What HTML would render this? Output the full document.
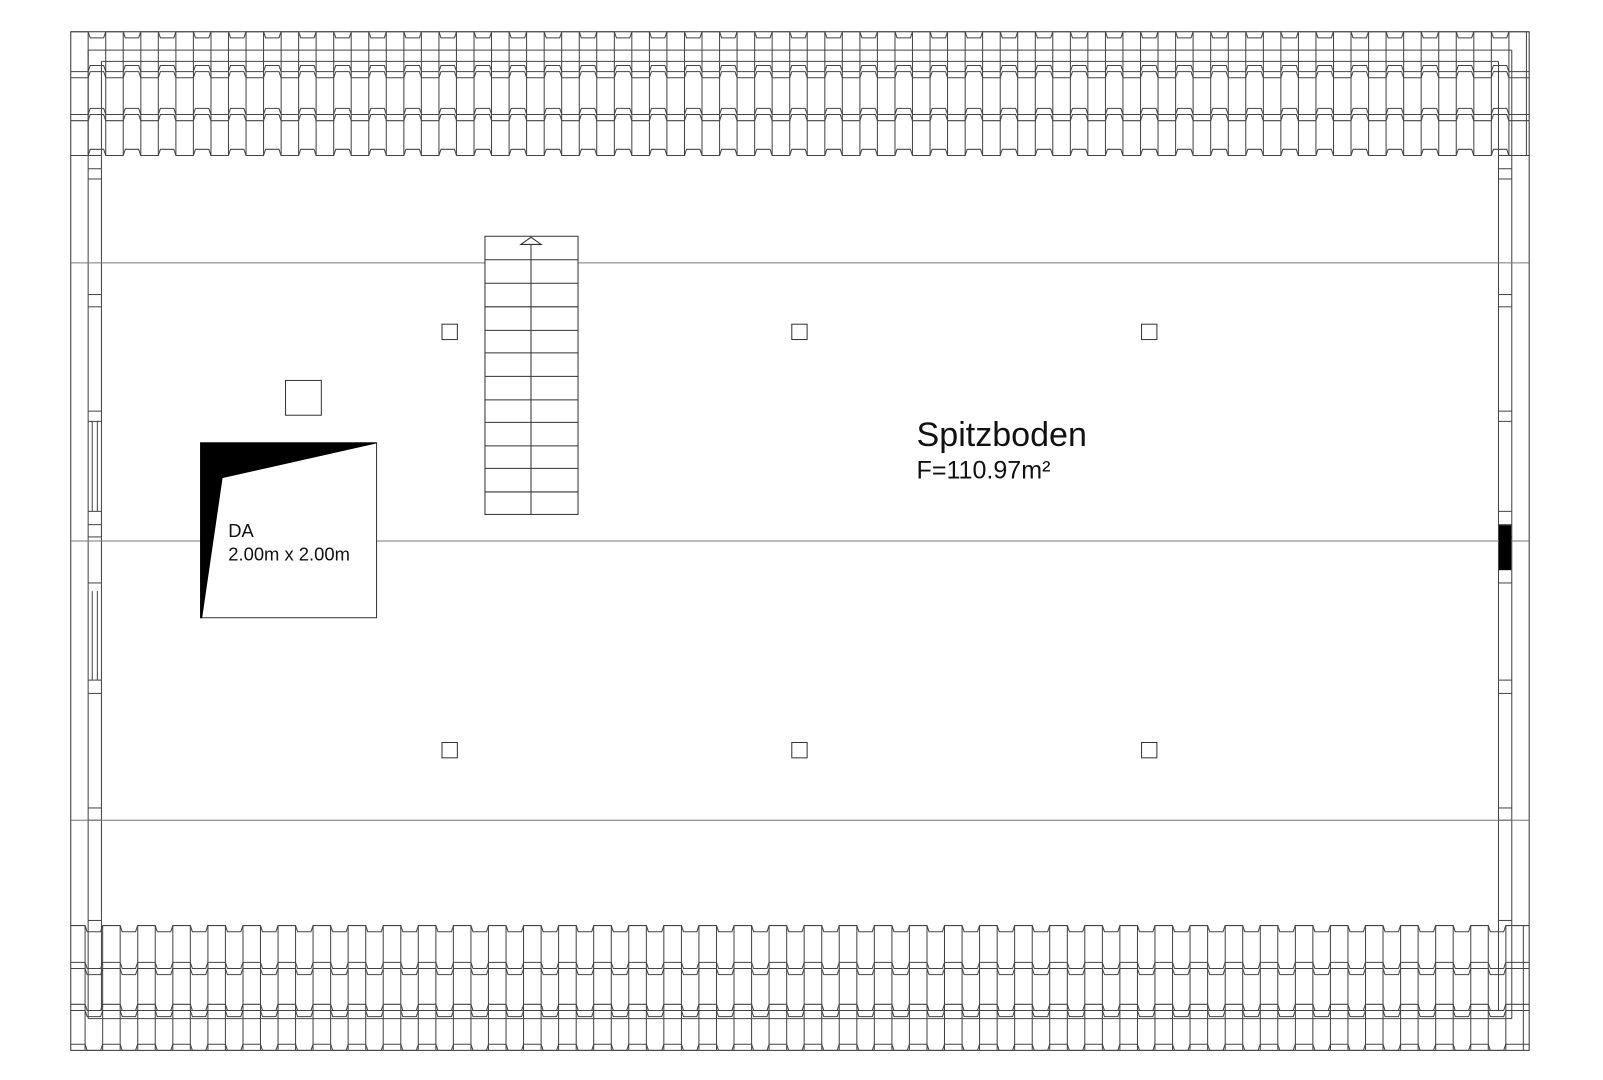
<!DOCTYPE html>
<html><head><meta charset="utf-8"><style>
html,body{margin:0;padding:0;background:#fff;width:1603px;height:1080px;overflow:hidden}
svg{display:block}
text{font-family:"Liberation Sans",sans-serif;fill:#111}
</style></head><body>
<svg id="s" width="1603" height="1080" viewBox="0 0 1567 1056" xmlns="http://www.w3.org/2000/svg">
<g id="g" fill="none" stroke="#444" stroke-width="1"></g>
<g fill="none" stroke="#333" stroke-width="1">
<line x1="69" y1="257" x2="1495" y2="257" stroke="#777"/>
<line x1="69" y1="529" x2="1495" y2="529" stroke="#777"/>
<line x1="69" y1="802" x2="1495" y2="802" stroke="#777"/>
<rect x="474" y="231" width="91" height="272" fill="#fff"/>
<line x1="474" y1="254" x2="565" y2="254"/><line x1="474" y1="277" x2="565" y2="277"/>
<line x1="474" y1="300" x2="565" y2="300"/><line x1="474" y1="323" x2="565" y2="323"/>
<line x1="474" y1="345" x2="565" y2="345"/><line x1="474" y1="368" x2="565" y2="368"/>
<line x1="474" y1="391" x2="565" y2="391"/><line x1="474" y1="413" x2="565" y2="413"/>
<line x1="474" y1="436" x2="565" y2="436"/><line x1="474" y1="458" x2="565" y2="458"/>
<line x1="474" y1="481" x2="565" y2="481"/>
<line x1="519" y1="236" x2="519" y2="503"/>
<path d="M509 239 L519 232 L529 239 Z" fill="#fff"/>
<rect x="279" y="372" width="35" height="34"/>
<rect x="432" y="317" width="15" height="15"/><rect x="774" y="317" width="15" height="15"/><rect x="1116" y="317" width="15" height="15"/>
<rect x="432" y="726" width="15" height="15"/><rect x="774" y="726" width="15" height="15"/><rect x="1116" y="726" width="15" height="15"/>
<rect x="196" y="433" width="172" height="171" fill="#fff"/>
<path d="M196 433 L368 433 L217 467 L197 604 L196 604 Z" fill="#000" stroke="#000"/>
<rect x="1466" y="514" width="11" height="43" fill="#000" stroke="#000"/>
</g>
<g font-size="18"><text x="223" y="525">DA</text><text x="223" y="548">2.00m x 2.00m</text></g>
<text x="896" y="436" font-size="33.3">Spitzboden</text>
<text x="896" y="468" font-size="24.5">F=110.97m²</text>
</svg>
<script>
(function(){
var g=document.getElementById('g'),NS='http://www.w3.org/2000/svg';
function P(d,c){var p=document.createElementNS(NS,'path');p.setAttribute('d',d);if(c)p.setAttribute('stroke',c);g.appendChild(p);}
function L(a,b,c,d,col){P('M'+a+' '+b+' L'+c+' '+d,col);}
var X0=69,X1=1495,pitch=17.15;
P('M69 31 H1495 V1027 H69 Z','#333');
L(86,49,1478,49);L(99,60,1465,60);
L(86,49,86,996);L(99,60,99,988);L(1478,49,1478,996);L(1465,60,1465,988);
L(99,988,1465,988);L(86,996,1478,996);
var lt=[152,165,175,288,300,402,412,500,513,525,570,665,678,790,802,900];
lt.forEach(function(y){L(86,y,99,y);L(1465,y,1478,y);});
L(90,412,90,500);L(95,412,95,500);L(90,578,90,665);L(95,578,95,665);
var x;
for(x=86;x<X1;x+=pitch){L(x.toFixed(1),31,x.toFixed(1),152);}
function humpRow(y,start,up){
 var d='M'+X0+' '+y,x;
 for(x=start;x+pitch<=X1;x+=2*pitch){
  var h=up?-6:6;
  d+=' L'+x.toFixed(1)+' '+y+' L'+(x+2).toFixed(1)+' '+(y+h)+' L'+(x+pitch-2).toFixed(1)+' '+(y+h)+' L'+(x+pitch).toFixed(1)+' '+y;
 }
 d+=' L'+X1+' '+y;P(d);
}
humpRow(76,86,true);humpRow(70,86,true);
humpRow(118,86,true);humpRow(112,86,true);
humpRow(152,86,true);
humpRow(31,86,false);
for(x=83;x<X1;x+=pitch){L(x.toFixed(1),905,x.toFixed(1),1027);}
humpRow(905,83,false);
humpRow(941,83,false);humpRow(947,83,false);
humpRow(982,83,false);humpRow(988,83,false);
humpRow(1021,83,false);
})();
</script>
</body></html>
